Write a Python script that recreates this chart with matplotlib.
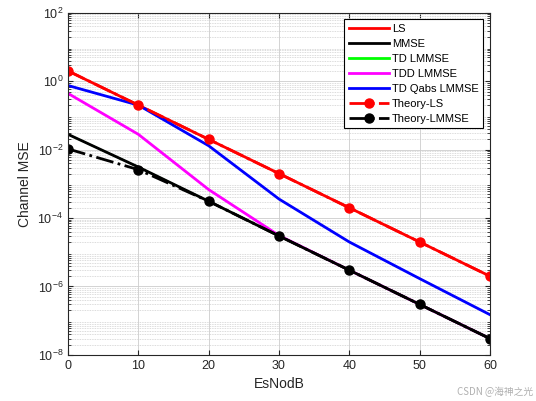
import matplotlib.pyplot as plt
import matplotlib.ticker as mticker

plt.rcParams['font.family'] = ['Liberation Sans', 'DejaVu Sans']

snr_db = [0, 10, 20, 30, 40, 50, 60]

ls_mse = [2.0, 0.2, 2e-2, 2e-3, 2e-4, 2e-5, 2e-6]
mmse = [2.8e-2, 3.1e-3, 3.1e-4, 3e-5, 3e-6, 3e-7, 3e-8]
td_lmmse = [2.8e-2, 3.1e-3, 3.1e-4, 3e-5, 3e-6, 3e-7, 3e-8]
tdd_lmmse = [0.44, 2.8e-2, 6.8e-4, 3.1e-5, 3e-6, 3e-7, 3e-8]
td_qabs_lmmse = [0.75, 0.2, 1.3e-2, 3.6e-4, 2e-5, 1.7e-6, 1.5e-7]
theory_ls = [2.0, 0.2, 2e-2, 2e-3, 2e-4, 2e-5, 2e-6]
theory_lmmse = [1.05e-2, 2.6e-3, 3.1e-4, 3e-5, 3e-6, 3e-7, 3e-8]

fig = plt.figure(figsize=(5.36, 4.01), dpi=100)
ax = fig.add_axes([0.127, 0.115, 0.787, 0.853])

ax.semilogy(snr_db, ls_mse, color='#ff0000', lw=2, label='LS')
# TD LMMSE sits right under the MMSE curve
ax.semilogy(snr_db, td_lmmse, color='#00ff00', lw=1.2, label='TD LMMSE')
ax.semilogy(snr_db, tdd_lmmse, color='#ff00ff', lw=2, label='TDD LMMSE')
ax.semilogy(snr_db, mmse, color='black', lw=2, label='MMSE')
ax.semilogy(snr_db, td_qabs_lmmse, color='#0000ff', lw=2, label='TD Qabs LMMSE')
ax.semilogy(snr_db, theory_ls, color='#ff0000', lw=2, ls='-.', marker='o', ms=6.5, label='Theory-LS')
ax.semilogy(snr_db, theory_lmmse, color='black', lw=2, ls='-.', marker='o', ms=6.5, label='Theory-LMMSE')

ax.set_xlim(0, 60)
ax.set_ylim(1e-8, 1e2)
ax.set_xticks(range(0, 61, 10))
ax.set_yticks([1e-8, 1e-6, 1e-4, 1e-2, 1e0, 1e2])
ax.yaxis.set_minor_locator(mticker.LogLocator(base=10, subs=range(2, 10), numticks=20))
ax.yaxis.set_minor_formatter(mticker.NullFormatter())

ax.grid(True, which='major', color='#cccccc', lw=0.6)
ax.grid(True, which='minor', axis='y', color='#cfcfcf', lw=0.6, ls=(0, (1, 1)))
ax.tick_params(which='both', direction='in', top=True, right=True, labelsize=9, colors='#262626')
ax.tick_params(which='minor', length=2)
for s in ax.spines.values():
    s.set_color('#262626')

ax.set_xlabel('EsNodB', fontsize=10, color='#262626')
ax.set_ylabel('Channel MSE', fontsize=10, color='#262626')

handles, labels = ax.get_legend_handles_labels()
order = ['LS', 'MMSE', 'TD LMMSE', 'TDD LMMSE', 'TD Qabs LMMSE', 'Theory-LS', 'Theory-LMMSE']
hl = dict(zip(labels, handles))
leg = ax.legend([hl[k] for k in order], order, loc='upper right', fontsize=8,
                fancybox=False, framealpha=1, edgecolor='black', handlelength=3.6,
                handletextpad=0.3, labelspacing=0.45, borderaxespad=0.6)
leg.get_frame().set_linewidth(0.8)
leg.get_lines()[2].set_linewidth(2)

fig.text(0.995, 0.01, 'CSDN @海神之光', ha='right', va='bottom', fontsize=7, color='#b0b0b0',
         family=['Noto Sans CJK SC', 'DejaVu Sans'])

fig.savefig('out.png', dpi=100)
